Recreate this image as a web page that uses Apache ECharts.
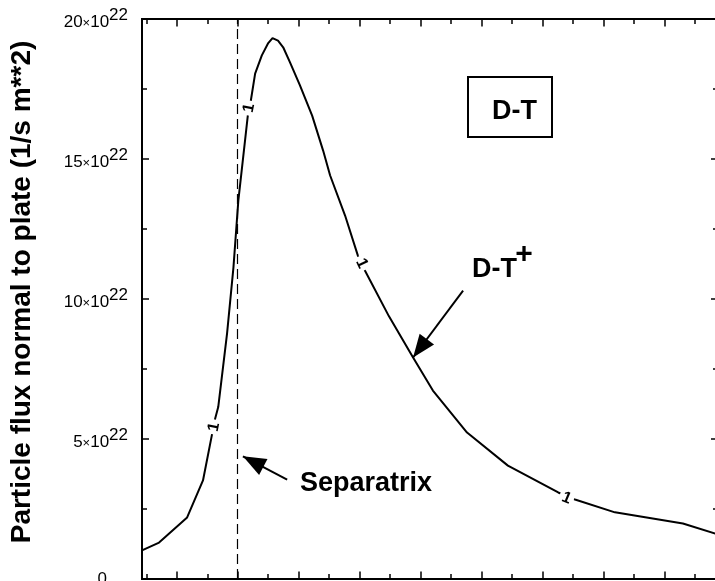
<!DOCTYPE html>
<html><head><meta charset="utf-8">
<script src="https://cdn.jsdelivr.net/npm/echarts@6/dist/echarts.min.js"></script>
<style>html,body{margin:0;padding:0;background:#fff}#c{width:715px;height:581px}</style>
</head><body><div id="c"></div>
<script>
// ---- data (x: distance from separatrix, tick units; y: flux in 10^22 /s m^2) ----
const fluxX = [-3.14, -2.58, -1.66, -1.14, -0.85, -0.74, -0.64, -0.35, -0.14, 0.02, 0.33, 0.43, 0.57, 0.79, 1.00, 1.14, 1.32, 1.49, 1.71, 2.04, 2.44, 2.80, 3.03, 3.52, 3.94, 4.17, 4.96, 5.75, 6.40, 7.52, 8.86, 10.51, 11.06, 12.37, 14.60, 15.75];
const fluxY = [1.02, 1.30, 2.20, 3.52, 5.13, 5.73, 6.14, 8.77, 11.14, 13.52, 16.55, 17.09, 18.05, 18.70, 19.14, 19.32, 19.23, 18.99, 18.46, 17.63, 16.55, 15.30, 14.41, 12.98, 11.55, 11.02, 9.38, 7.91, 6.73, 5.23, 4.05, 3.09, 2.84, 2.38, 1.98, 1.59];
const contourLabelX = [-0.78, 0.37, 4.06, 10.78];
const contourLabelY = [5.43, 16.82, 11.27, 2.89];
const contourLabelText = ['1', '1', '1', '1'];
const yTickValues = [0, 5, 10, 15, 20];
const yExponent = '22';
const xMajorTicks = [-2, 0, 2, 4, 6, 8, 10, 12, 14];
const xMinorTicks = [-3, -1, 1, 3, 5, 7, 9, 11, 13, 15];
const separatrixX = 0;
const yTitle = 'Particle flux normal to plate (1/s m**2)';
const boxText = 'D-T';
const ionText = 'D-T';
const ionSup = '+';
const sepText = 'Separatrix';

const XMIN = -3.14, XMAX = 15.75;
const FONT = '"Liberation Sans", Arial, Helvetica, sans-serif';

function xAx(pos, ticks, len) {
  return {
    type: 'value', position: pos, min: XMIN, max: XMAX,
    axisLine: { show: true, onZero: false, lineStyle: { color: '#000', width: 2 } },
    axisTick: { show: true, inside: true, length: len, customValues: ticks, lineStyle: { color: '#000', width: 1.5 } },
    axisLabel: { show: false }, splitLine: { show: false }
  };
}
function yAx(pos, withLabels) {
  return {
    type: 'value', position: pos, min: 0, max: 20, interval: 5,
    axisLine: { show: true, onZero: false, lineStyle: { color: '#000', width: 2 } },
    axisTick: { show: true, inside: true, length: 7, lineStyle: { color: '#000', width: 1.5 } },
    minorTick: { show: true, splitNumber: 2, length: 5, lineStyle: { color: '#000', width: 1.5 } },
    splitLine: { show: false },
    axisLabel: withLabels ? {
      show: true, margin: 14,
      customValues: yTickValues,
      formatter: v => v === 0 ? '{z|0}' : '{n|' + v + '}{x|×}{n|10}{s|' + yExponent + '}',
      rich: {
        z: { fontSize: 17, fontFamily: FONT, color: '#000', verticalAlign: 'bottom', padding: [0, 21, 0, 0] },
        n: { fontSize: 17, fontFamily: FONT, color: '#000', verticalAlign: 'bottom' },
        x: { fontSize: 13, fontFamily: FONT, color: '#000', verticalAlign: 'bottom', padding: [0, 0, 1, 0] },
        s: { fontSize: 17, fontFamily: FONT, color: '#000', verticalAlign: 'bottom', padding: [0, 0, 7, 0] }
      }
    } : { show: false },
    name: withLabels ? yTitle : '',
    nameLocation: 'middle', nameGap: 106,
    nameTextStyle: { fontSize: 28, fontWeight: 'bold', fontFamily: FONT, color: '#000', padding: [0, 0, 0, 14] }
  };
}

const chart = echarts.init(document.getElementById('c'), null, { renderer: 'canvas' });
const option = {
  animation: false,
  backgroundColor: '#fff',
  grid: { left: 142, top: 19, width: 576, height: 560, containLabel: false, outerBoundsMode: 'none' },
  xAxis: [xAx('bottom', xMajorTicks, 7.5), xAx('bottom', xMinorTicks, 5), xAx('top', xMajorTicks, 7.5), xAx('top', xMinorTicks, 5)],
  yAxis: [yAx('left', true), yAx('right', false)],
  series: [
    {
      type: 'line', xAxisIndex: 0, yAxisIndex: 0,
      data: fluxX.map((x, i) => [x, fluxY[i]]),
      showSymbol: false, symbol: 'none', smooth: false,
      lineStyle: { color: '#000', width: 2 },
      markLine: {
        silent: true, animation: false,
        label: { show: false },
        emphasis: { disabled: true },
        data: [
          [{ coord: [separatrixX, 0], symbol: 'none', lineStyle: { type: [10, 5], width: 1.2, color: '#000' } },
           { coord: [separatrixX, 20], symbol: 'none' }],
          [{ coord: [1.62, 3.55], symbol: 'none', lineStyle: { type: 'solid', width: 2, color: '#000' } },
           { coord: [0.17, 4.38], symbol: 'triangle', symbolSize: [18, 23], symbolOffset: [0, 11.5] }],
          [{ coord: [7.39, 10.30], symbol: 'none', lineStyle: { type: 'solid', width: 2, color: '#000' } },
           { coord: [5.75, 7.91], symbol: 'triangle', symbolSize: [18, 23], symbolOffset: [0, 11.5] }]
        ],
        itemStyle: { color: '#000' }
      },
      z: 3
    },
    {
      type: 'scatter', xAxisIndex: 0, yAxisIndex: 0,
      symbol: 'rect', symbolSize: 1, itemStyle: { color: '#fff', opacity: 1 },
      emphasis: { disabled: true },
      data: contourLabelX.map((x, i) => [x, contourLabelY[i]]),
      label: {
        show: true, position: 'inside',
        formatter: p => contourLabelText[p.dataIndex],
        fontSize: 16, fontWeight: 'bold', fontFamily: FONT, color: '#000', opacity: 1,
        textBorderWidth: 0,
        backgroundColor: '#fff', padding: [0, 3]
      },
      z: 5
    }
  ],
  graphic: [
    { type: 'rect', shape: { x: 468, y: 77, width: 84, height: 60 }, style: { fill: '#fff', stroke: '#000', lineWidth: 2 }, z: 10 },
    { type: 'text', x: 514.5, y: 112, style: { text: boxText, fill: '#000', font: 'bold 27px ' + FONT, textAlign: 'center', textVerticalAlign: 'middle' }, z: 11 },
    { type: 'text', x: 472, y: 270, style: { text: ionText, fill: '#000', font: 'bold 27px ' + FONT, textAlign: 'left', textVerticalAlign: 'middle' }, z: 11 },
    { type: 'text', x: 524, y: 255, style: { text: ionSup, fill: '#000', font: 'bold 30px ' + FONT, textAlign: 'center', textVerticalAlign: 'middle' }, z: 11 },
    { type: 'text', x: 300, y: 484, style: { text: sepText, fill: '#000', font: 'bold 27px ' + FONT, textAlign: 'left', textVerticalAlign: 'middle' }, z: 11 }
  ]
};
chart.setOption(option);

// rotate the inline contour labels along the curve direction
const rotated = contourLabelX.map((lx, i) => {
  let j = 0;
  while (j < fluxX.length - 2 && fluxX[j + 1] < lx) j++;
  const p1 = chart.convertToPixel({ seriesIndex: 0 }, [fluxX[j], fluxY[j]]);
  const p2 = chart.convertToPixel({ seriesIndex: 0 }, [fluxX[j + 1], fluxY[j + 1]]);
  const ang = Math.atan2(-(p2[1] - p1[1]), p2[0] - p1[0]) * 180 / Math.PI;
  return { value: [lx, contourLabelY[i]], label: { rotate: ang } };
});
chart.setOption({ series: [{}, { data: rotated }] });
</script>
</body></html>
